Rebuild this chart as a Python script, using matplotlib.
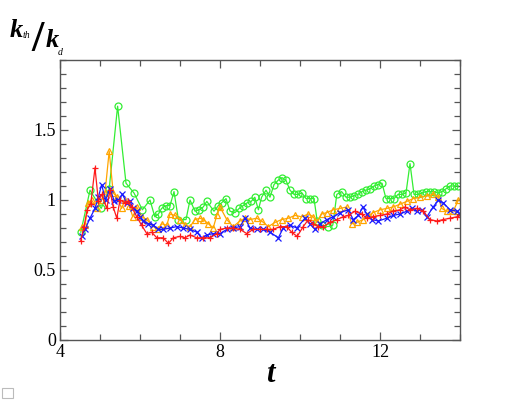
import matplotlib
matplotlib.use("Agg")
import matplotlib.pyplot as plt
from matplotlib.ticker import MultipleLocator
from matplotlib.patches import Rectangle

# ---- data ----
t_green = [4.52, 4.75, 5.03, 5.23, 5.44, 5.65, 5.85, 6.06, 6.25, 6.37, 6.46, 6.54, 6.65, 6.75,
           6.85, 6.96, 7.15, 7.25, 7.375, 7.48, 7.58, 7.67, 7.85, 7.96, 8.04, 8.15, 8.25, 8.375,
           8.48, 8.58, 8.68, 8.78, 8.87, 8.96, 9.04, 9.15, 9.25, 9.35, 9.45, 9.55, 9.65, 9.75,
           9.85, 9.95, 10.05, 10.15, 10.25, 10.35, 10.43, 10.55, 10.7, 10.82, 10.92, 11.04, 11.15,
           11.25, 11.35, 11.45, 11.55, 11.65, 11.75, 11.85, 11.95, 12.05, 12.15, 12.25, 12.35,
           12.45, 12.55, 12.65, 12.75, 12.85, 12.95, 13.05, 13.15, 13.25, 13.35, 13.45, 13.55,
           13.65, 13.75, 13.85, 13.95]
k_green = [0.77, 1.07, 0.94, 1.08, 1.67, 1.12, 1.05, 0.93, 1.0, 0.88, 0.90, 0.94, 0.96, 0.96,
           1.06, 0.86, 0.86, 1.0, 0.92, 0.93, 0.95, 0.99, 0.92, 0.96, 0.98, 1.01, 0.92, 0.91,
           0.94, 0.96, 0.98, 0.99, 1.02, 0.93, 1.02, 1.07, 1.02, 1.11, 1.14, 1.16, 1.14, 1.07,
           1.04, 1.04, 1.05, 1.01, 1.01, 1.01, 0.85, 0.82, 0.81, 0.82, 1.04, 1.06, 1.02,
           1.02, 1.03, 1.04, 1.06, 1.07, 1.08, 1.10, 1.11, 1.12, 1.01, 1.01, 1.01,
           1.04, 1.04, 1.05, 1.26, 1.04, 1.04, 1.05, 1.06, 1.06, 1.06, 1.05, 1.06,
           1.08, 1.10, 1.10, 1.10]

t_orange = [4.54, 4.625, 4.71, 4.79, 4.92, 5.04, 5.125, 5.23, 5.33, 5.43, 5.54, 5.625, 5.73,
            5.82, 5.92, 6.04, 6.17, 6.33, 6.46, 6.54, 6.67, 6.75, 6.875, 7.0, 7.125, 7.25, 7.375,
            7.5, 7.58, 7.71, 7.83, 7.92, 8.0, 8.17, 8.33, 8.5, 8.625, 8.75, 8.92, 9.04, 9.21,
            9.375, 9.54, 9.71, 9.875, 10.04, 10.21, 10.33, 10.42, 10.54, 10.67, 10.83, 11.0,
            11.17, 11.29, 11.42, 11.58, 11.71, 11.83, 12.0, 12.17, 12.33, 12.5, 12.67, 12.83,
            13.0, 13.17, 13.33, 13.46, 13.54, 13.67, 13.83, 13.96]
k_orange = [0.81, 0.82, 0.98, 1.0, 0.94, 1.0, 1.05, 1.35, 1.05, 1.02, 0.94, 1.0, 0.96,
            0.88, 0.95, 0.88, 0.86, 0.81, 0.79, 0.83, 0.82, 0.90, 0.89, 0.86, 0.82, 0.81, 0.86,
            0.87, 0.86, 0.83, 0.80, 0.89, 0.95, 0.86, 0.81, 0.85, 0.87, 0.86, 0.87, 0.85, 0.81,
            0.84, 0.86, 0.87, 0.89, 0.88, 0.90, 0.88, 0.84, 0.90, 0.91, 0.93, 0.94,
            0.95, 0.83, 0.84, 0.86, 0.89, 0.91, 0.93, 0.94, 0.95, 0.97, 0.99, 1.01,
            1.02, 1.03, 1.04, 1.02, 0.94, 0.92, 0.92, 1.0]

t_blue = [4.54, 4.625, 4.75, 4.875, 4.96, 5.04, 5.14, 5.25, 5.36, 5.46, 5.56, 5.67, 5.75, 5.83,
          5.92, 6.0, 6.08, 6.21, 6.33, 6.46, 6.58, 6.75, 6.92, 7.08, 7.25, 7.42, 7.54, 7.67,
          7.83, 8.0, 8.17, 8.33, 8.5, 8.625, 8.75, 8.92, 9.08, 9.25, 9.46, 9.58, 9.75, 9.92,
          10.125, 10.25, 10.375, 10.5, 10.67, 10.83, 11.0, 11.21, 11.33, 11.46, 11.57, 11.67,
          11.79, 11.96, 12.17, 12.33, 12.5, 12.67, 12.79, 12.92, 13.04, 13.17, 13.33, 13.46,
          13.58, 13.75, 13.92, 14.0]
k_blue = [0.74, 0.79, 0.87, 0.94, 1.02, 1.11, 1.0, 1.08, 0.99, 1.0, 1.04, 0.98, 0.99, 0.94,
          0.92, 0.88, 0.85, 0.83, 0.82, 0.79, 0.79, 0.80, 0.81, 0.80, 0.79, 0.77, 0.73, 0.75,
          0.76, 0.76, 0.79, 0.80, 0.81, 0.87, 0.80, 0.79, 0.79, 0.77, 0.73, 0.80, 0.82, 0.80,
          0.87, 0.83, 0.79, 0.83, 0.86, 0.88, 0.91, 0.93, 0.86, 0.89, 0.95, 0.90,
          0.86, 0.85, 0.87, 0.89, 0.90, 0.92, 0.94, 0.92, 0.93, 0.88, 0.95, 1.0,
          0.98, 0.93, 0.92, 0.90]

t_red = [4.52, 4.6, 4.68, 4.77, 4.875, 4.96, 5.04, 5.17, 5.25, 5.33, 5.42, 5.5, 5.625, 5.71,
         5.79, 5.92, 6.04, 6.17, 6.29, 6.42, 6.58, 6.71, 6.83, 7.0, 7.125, 7.25, 7.42, 7.58,
         7.75, 7.92, 8.0, 8.17, 8.33, 8.5, 8.67, 8.83, 9.0, 9.17, 9.33, 9.5, 9.67, 9.79, 9.93,
         10.08, 10.21, 10.33, 10.46, 10.58, 10.75, 10.92, 11.08, 11.21, 11.375, 11.54, 11.67,
         11.83, 12.0, 12.17, 12.33, 12.5, 12.625, 12.75, 12.92, 13.08, 13.25, 13.42, 13.58,
         13.75, 13.92, 14.0]
k_red = [0.71, 0.81, 0.93, 0.975, 1.23, 0.99, 1.04, 0.94, 1.07, 0.95, 0.87, 1.0, 0.98, 0.99,
         0.95, 0.88, 0.82, 0.76, 0.77, 0.73, 0.73, 0.69, 0.73, 0.74, 0.73, 0.75, 0.73, 0.73,
         0.73, 0.76, 0.79, 0.80, 0.80, 0.79, 0.76, 0.79, 0.79, 0.79, 0.79, 0.81, 0.81, 0.77, 0.74,
         0.81, 0.86, 0.83, 0.81, 0.81, 0.84, 0.86, 0.88, 0.89, 0.92, 0.90, 0.87,
         0.88, 0.89, 0.90, 0.92, 0.93, 0.95, 0.93, 0.94, 0.92, 0.86, 0.85, 0.86,
         0.87, 0.88, 0.89]

SERIF = ["Liberation Serif", "DejaVu Serif"]
plt.rcParams["font.family"] = SERIF

fig = plt.figure(figsize=(5.18, 4.0), dpi=100)
ax = fig.add_axes([60 / 518, 60 / 400, 400 / 518, 280 / 400])

## series
ax.plot(t_green, k_green, color="#33ee33", lw=0.9, marker="o", ms=5, mfc="none", mew=0.9)
ax.plot(t_orange, k_orange, color="#ffa500", lw=0.9, marker="^", ms=5, mfc="none", mew=0.9)
ax.plot(t_blue, k_blue, color="#1a1aff", lw=0.9, marker="x", ms=4, mew=0.9)
ax.plot(t_red, k_red, color="#ff1a1a", lw=0.9, marker="+", ms=5, mew=0.9)

## axes look
ax.set_xlim(4, 14)
ax.set_ylim(0, 2)
ax.xaxis.set_minor_locator(MultipleLocator(1))
ax.yaxis.set_minor_locator(MultipleLocator(0.1))
ax.set_yticks([0, 0.5, 1, 1.5])
ax.set_yticklabels(["0", "0.5", "1", "1.5"], fontfamily=SERIF)
ax.set_xticks([4, 8, 12])
ax.set_xticklabels(["4", "8", "12"], fontfamily=SERIF)
ax.tick_params(which="both", direction="in", top=True, right=True, color="#555555",
               labelsize=13, width=0.9)
ax.tick_params(which="major", length=6, pad=3)
ax.tick_params(which="minor", length=4)
for s in ax.spines.values():
    s.set_color("#555555")
    s.set_linewidth(1.0)

## labels
fig.text(270 / 518, 1 - 375 / 400, "t", fontsize=22, fontweight="bold", fontstyle="italic",
         ha="center", va="center")
fig.text(10 / 518, 1 - 37 / 400, "k", fontsize=19, fontweight="bold", fontstyle="italic")
fig.text(23 / 518, 1 - 38 / 400, "th", fontsize=7, fontstyle="italic")
fig.text(31 / 518, 1 - 51 / 400, "/", fontsize=32, fontweight="bold")
fig.text(46 / 518, 1 - 47 / 400, "k", fontsize=19, fontweight="bold", fontstyle="italic")
fig.text(58 / 518, 1 - 55 / 400, "d", fontsize=7, fontstyle="italic")

## tiny empty legend box
fig.patches.append(Rectangle((2 / 518, 2 / 400), 11 / 518, 10 / 400, transform=fig.transFigure,
                             fill=False, edgecolor="#bbbbbb", lw=0.8))

fig.savefig("out.png", dpi=100)
